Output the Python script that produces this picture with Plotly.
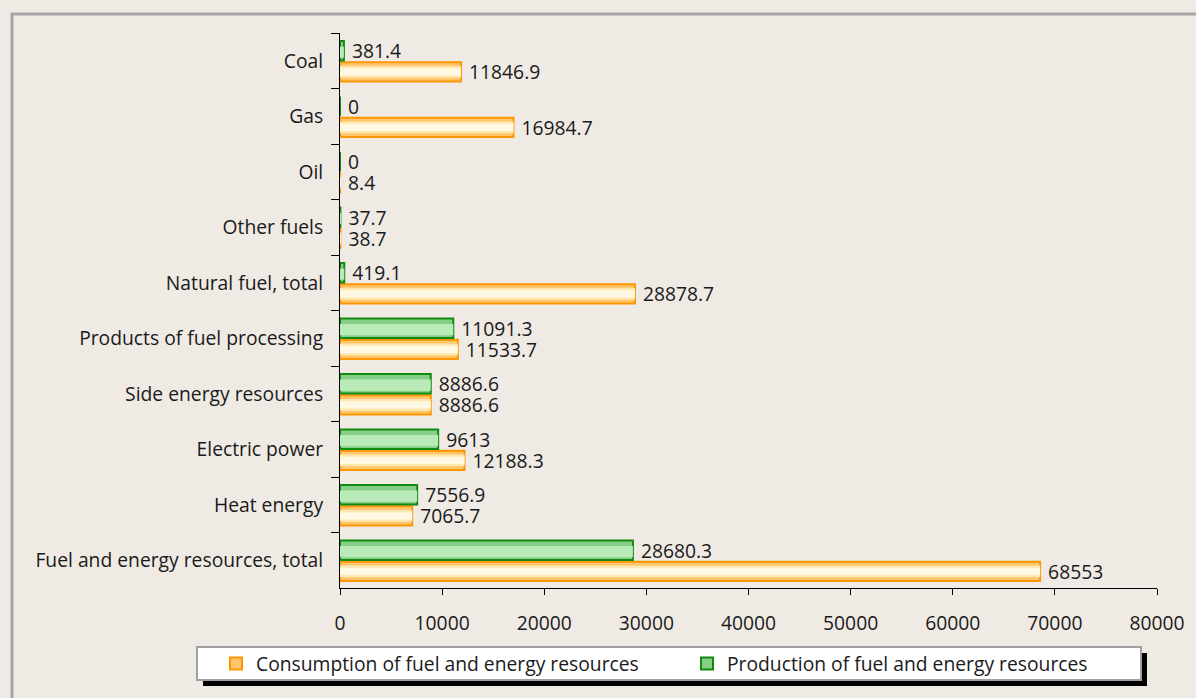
import plotly.graph_objects as go

categories = ["Coal", "Gas", "Oil", "Other fuels", "Natural fuel, total",
              "Products of fuel processing", "Side energy resources",
              "Electric power", "Heat energy", "Fuel and energy resources, total"]
consumption = [11846.9, 16984.7, 8.4, 38.7, 28878.7, 11533.7, 8886.6, 12188.3, 7065.7, 68553]
production = [381.4, 0, 0, 37.7, 419.1, 11091.3, 8886.6, 9613, 7556.9, 28680.3]
x_ticks = [0, 10000, 20000, 30000, 40000, 50000, 60000, 70000, 80000]
series_names = ["Consumption of fuel and energy resources", "Production of fuel and energy resources"]

W, H = 1196, 698
L, R, T, B = 340, 1157, 33, 588
BG = "#EFEBE4"
FONT = "Open Sans"
FS = 19.3


def px_x(p):
    return (p - L) / (R - L)


def px_y(p):
    return (B - p) / (B - T)


def fmt(v):
    return " " + f"{v:g}"


fig = go.Figure()

BAR_W = 0.35
OR_OFF, GR_OFF = 0.025, -0.355

# consumption (orange), lower bar in each group
fig.add_trace(go.Bar(
    name=series_names[0], y=categories, x=consumption, orientation="h",
    offset=OR_OFF, width=BAR_W,
    marker=dict(color="#FFC66E", line=dict(color="#FF9500", width=2)),
    text=[fmt(v) for v in consumption], textposition="outside",
    textfont=dict(family=FONT, size=FS, color="#1a1a1a"), cliponaxis=False,
))
fig.add_trace(go.Bar(
    y=categories, x=consumption, orientation="h", showlegend=False, hoverinfo="skip",
    offset=OR_OFF + 0.07, width=BAR_W - 0.14,
    marker=dict(color="#FFE7B0", line=dict(width=0)),
))
fig.add_trace(go.Bar(
    y=categories, x=consumption, orientation="h", showlegend=False, hoverinfo="skip",
    offset=OR_OFF + 0.11, width=BAR_W - 0.22,
    marker=dict(color="#FFF8E2", line=dict(width=0)),
))

# production (green), upper bar in each group
fig.add_trace(go.Bar(
    name=series_names[1], y=categories, x=production, orientation="h",
    offset=GR_OFF, width=BAR_W,
    marker=dict(color="#86CF86", line=dict(color="#128A12", width=2)),
    text=[fmt(v) for v in production], textposition="outside",
    textfont=dict(family=FONT, size=FS, color="#1a1a1a"), cliponaxis=False,
))
fig.add_trace(go.Bar(
    y=categories, x=production, orientation="h", showlegend=False, hoverinfo="skip",
    offset=GR_OFF + 0.1, width=BAR_W - 0.15,
    marker=dict(color="#B9EBB9", line=dict(width=0)),
))

shapes = [
    # outer frame
    dict(type="rect", xref="paper", yref="paper", x0=px_x(12), x1=px_x(W + 20),
         y0=px_y(H + 20), y1=px_y(14), line=dict(color="#A5A5A5", width=3),
         fillcolor="rgba(0,0,0,0)", layer="below"),
    # legend shadow
    dict(type="rect", xref="paper", yref="paper", x0=px_x(203), x1=px_x(1147),
         y0=px_y(686), y1=px_y(653), line=dict(width=0), fillcolor="#000000", layer="below"),
    # legend box
    dict(type="rect", xref="paper", yref="paper", x0=px_x(197), x1=px_x(1141),
         y0=px_y(680), y1=px_y(647), line=dict(color="#A0A0A0", width=2),
         fillcolor="#FFFFFF", layer="below"),
]

fig.update_layout(
    width=W, height=H,
    margin=dict(l=L, r=W - R, t=T, b=H - B, pad=0),
    paper_bgcolor=BG, plot_bgcolor=BG,
    barmode="overlay",
    font=dict(family=FONT, size=FS, color="#1a1a1a"),
    showlegend=True,
    legend=dict(orientation="h", x=px_x(216), xanchor="left", y=px_y(664), yanchor="middle",
                bgcolor="rgba(0,0,0,0)", borderwidth=0, font=dict(family=FONT, size=FS),
                entrywidth=426, entrywidthmode="pixels", traceorder="normal"),
    shapes=shapes,
)
fig.update_traces(constraintext="none", selector=dict(type="bar"))

fig.update_xaxes(range=[0, 80000], tickvals=x_ticks, ticktext=[str(v) for v in x_ticks],
                 showgrid=False, zeroline=False, showline=True, linecolor="#000000", linewidth=1,
                 ticks="outside", ticklen=6, tickcolor="#000000", ticklabelstandoff=12,
                 tickfont=dict(family=FONT, size=FS))
fig.update_yaxes(categoryorder="array", categoryarray=categories, autorange="reversed",
                 showgrid=False, zeroline=False, showline=True, linecolor="#000000", linewidth=1,
                 ticks="outside", ticklen=8, tickcolor="#000000", tickson="boundaries",
                 ticklabelstandoff=12, tickfont=dict(family=FONT, size=FS))

fig.write_html("out.html", config={"displayModeBar": False},
               post_script="document.body.style.margin='0';")
